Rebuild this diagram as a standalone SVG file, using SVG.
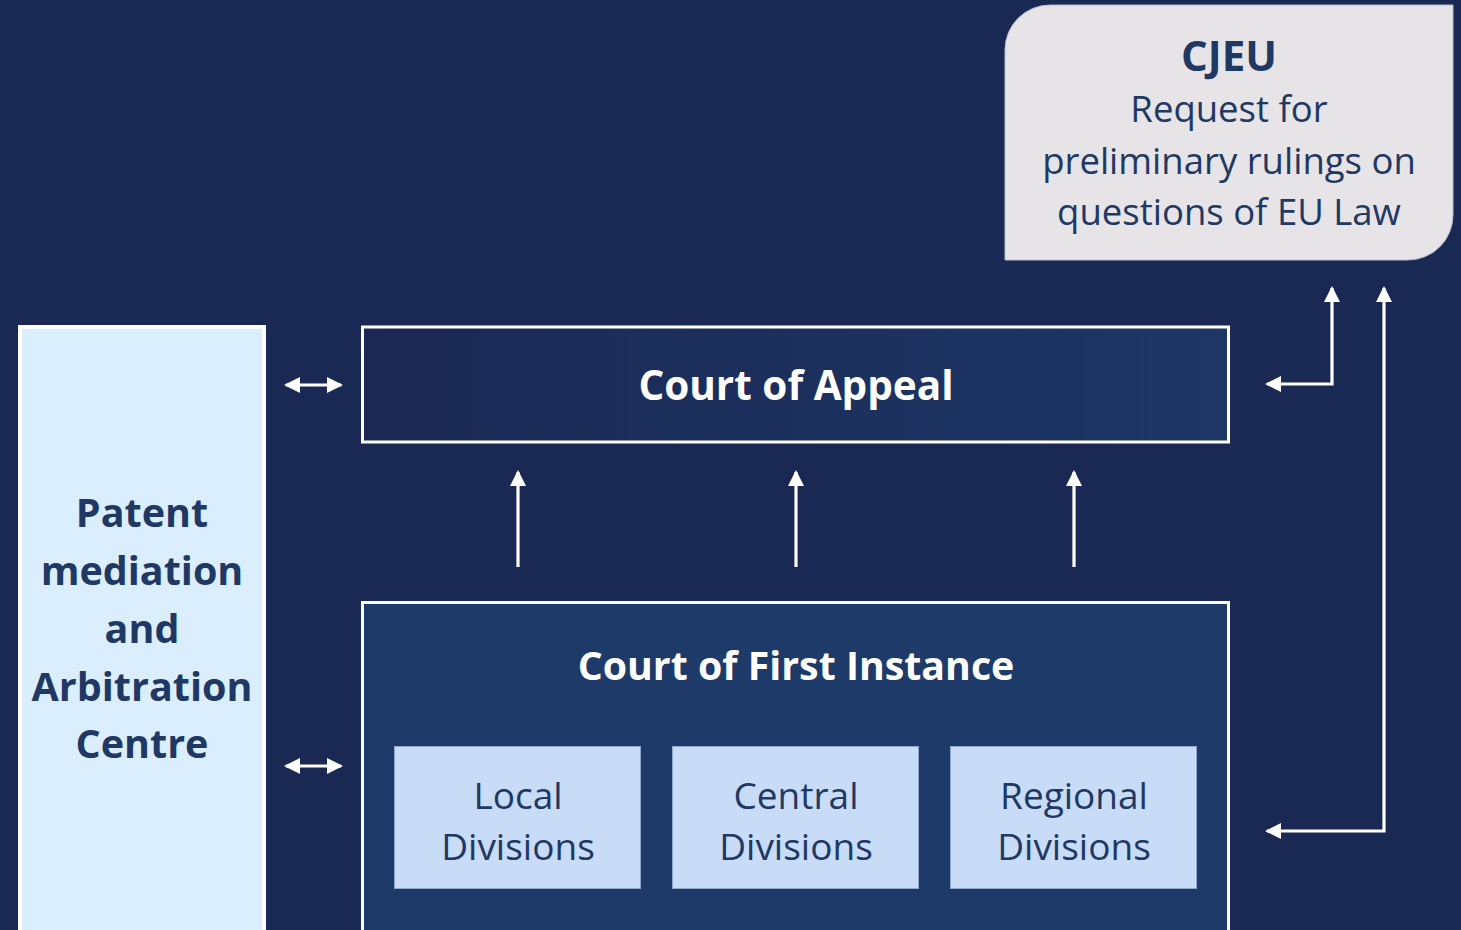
<svg xmlns="http://www.w3.org/2000/svg" width="1461" height="930" viewBox="0 0 1461 930">
<defs>
<linearGradient id="appealGrad" x1="0" y1="0" x2="1" y2="0">
<stop offset="0" stop-color="#1b2853"/>
<stop offset="1" stop-color="#1d3766"/>
</linearGradient>
<marker id="ah" viewBox="0 0 16 16" refX="14" refY="8" markerWidth="16" markerHeight="16" markerUnits="userSpaceOnUse" orient="auto-start-reverse">
<path d="M0,0 L16,8 L0,16 Z" fill="#ffffff"/>
</marker>
<style>
.dark{font-family:"Open Sans","Noto Sans",sans-serif;fill:#1f3864;text-anchor:middle}
.white{font-family:"Open Sans","Noto Sans",sans-serif;fill:#ffffff;text-anchor:middle;font-weight:bold}
.conn{fill:none;stroke:#ffffff;stroke-width:3.2}
.div{fill:#c9dcf7;stroke:#8ea7cf;stroke-width:1}
</style>
</defs>
<rect width="1461" height="930" fill="#1a2854"/>
<g id="cjeu">
<path d="M1050,5 H1453 V215 A45,45 0 0 1 1408,260 H1005 V50 A45,45 0 0 1 1050,5 Z" fill="#e6e4e6" stroke="#b8bccb" stroke-width="1"/>
<text class="dark" x="1229" y="71" font-size="42" font-weight="bold">CJEU</text>
<text class="dark" x="1229" y="122" font-size="36.5">Request for</text>
<text class="dark" x="1229" y="174" font-size="36.5">preliminary rulings on</text>
<text class="dark" x="1229" y="225" font-size="36.5">questions of EU Law</text>
</g>
<g id="pmac">
<rect x="20" y="327" width="244" height="610" fill="#dbeefe" stroke="#ffffff" stroke-width="4"/>
<text class="dark" font-size="39.5" font-weight="bold"><tspan x="142" y="527">Patent</tspan><tspan x="142" y="585">mediation</tspan><tspan x="142" y="643">and</tspan><tspan x="142" y="701">Arbitration</tspan><tspan x="142" y="758">Centre</tspan></text>
</g>
<g id="appeal">
<rect x="362.5" y="327" width="866" height="115" fill="url(#appealGrad)" stroke="#ffffff" stroke-width="3"/>
<text class="white" x="796" y="400" font-size="40.5">Court of Appeal</text>
</g>
<g id="first">
<rect x="362.5" y="602.5" width="866" height="335" fill="#1d3a68" stroke="#ffffff" stroke-width="3"/>
<text class="white" x="796" y="680" font-size="39.3">Court of First Instance</text>
</g>
<g id="local">
<rect class="div" x="394.5" y="746.5" width="246" height="142"/>
<text class="dark" font-size="37"><tspan x="518" y="809">Local</tspan><tspan x="518" y="860">Divisions</tspan></text>
</g>
<g id="central">
<rect class="div" x="672.5" y="746.5" width="246" height="142"/>
<text class="dark" font-size="37"><tspan x="796" y="809">Central</tspan><tspan x="796" y="860">Divisions</tspan></text>
</g>
<g id="regional">
<rect class="div" x="950.5" y="746.5" width="246" height="142"/>
<text class="dark" font-size="37"><tspan x="1074" y="809">Regional</tspan><tspan x="1074" y="860">Divisions</tspan></text>
</g>
<g id="connectors">
<path class="conn" d="M518,567 V472" marker-end="url(#ah)"/>
<path class="conn" d="M796,567 V472" marker-end="url(#ah)"/>
<path class="conn" d="M1074,567 V472" marker-end="url(#ah)"/>
<path class="conn" d="M286,385 H341" marker-start="url(#ah)" marker-end="url(#ah)"/>
<path class="conn" d="M286,766 H341" marker-start="url(#ah)" marker-end="url(#ah)"/>
<path class="conn" d="M1332,288 V384 H1267" marker-start="url(#ah)" marker-end="url(#ah)"/>
<path class="conn" d="M1384,288 V831 H1267" marker-start="url(#ah)" marker-end="url(#ah)"/>
</g>
</svg>
